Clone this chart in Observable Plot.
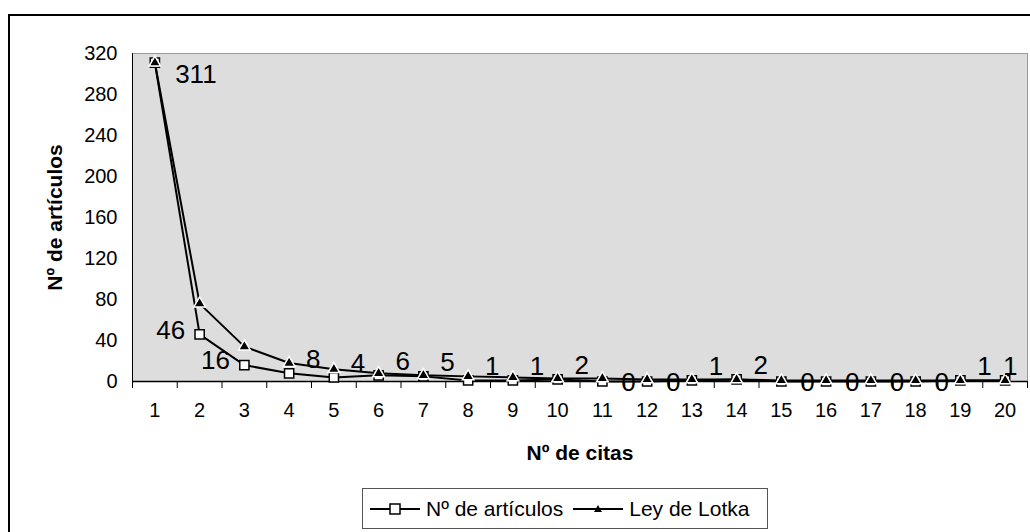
<!DOCTYPE html>
<html>
<head>
<meta charset="utf-8">
<script src="https://cdn.jsdelivr.net/npm/d3@7"></script>
<script src="https://cdn.jsdelivr.net/npm/@observablehq/plot@0.6"></script>
<style>
  html, body { margin: 0; padding: 0; background: #fff; }
  body { width: 1030px; height: 532px; overflow: hidden; position: relative; font-family: "Liberation Sans", Arial, sans-serif; }
  #frame { position: absolute; left: 8px; top: 14px; width: 1040px; height: 540px; border: 2px solid #000; box-sizing: border-box; pointer-events: none; }
  #chart svg { display: block; }
  #legend { position: absolute; left: 362px; top: 488px; width: 406px; height: 41px; box-sizing: border-box; border: 1px solid #555; background: #fff;
            display: flex; align-items: center; padding-left: 7px; font-size: 21px; color: #000; white-space: nowrap; }
  #legend .item { display: flex; align-items: center; margin-right: 10px; }
  #legend svg { margin-right: 6px; }
</style>
</head>
<body>
<div id="chart"></div>
<div id="legend"></div>
<div id="frame"></div>
<script>
const categories = [1, 2, 3, 4, 5, 6, 7, 8, 9, 10, 11, 12, 13, 14, 15, 16, 17, 18, 19, 20];
const articulos = [311, 46, 16, 8, 4, 6, 5, 1, 1, 2, 0, 0, 1, 2, 0, 0, 0, 0, 1, 1];
const lotka = [311, 76, 34, 18, 12, 8, 6, 5, 4, 3, 3, 2, 2, 2, 1, 1, 1, 1, 1, 1];
const yTicks = [0, 40, 80, 120, 160, 200, 240, 280, 320];
const seriesNames = ["Nº de artículos", "Ley de Lotka"];
const xTitle = "Nº de citas";
const yTitle = "Nº de artículos";

const rows = categories.map((c, i) => ({citas: c, articulos: articulos[i], lotka: lotka[i]}));
const xDomain = [categories[0] - 0.5, categories[categories.length - 1] + 0.5];
const boundaries = categories.map(c => c - 0.5).concat([xDomain[1]]);

const font = "'Liberation Sans', Arial, sans-serif";
const labelFont = 26;
const tickFont = 20;
const titleFont = 21;

const n = rows.length;
const middle = rows.slice(3, n - 1);
const label = d => String(d.articulos);

const plot = Plot.plot({
  width: 1030,
  height: 484,
  marginTop: 53,
  marginBottom: 103,
  marginLeft: 132,
  marginRight: 3,
  style: {fontFamily: font, fontSize: tickFont + "px", background: "transparent", color: "#000"},
  x: {domain: xDomain},
  y: {domain: [0, 320]},
  marks: [
    Plot.frame({fill: "#dddddd", stroke: "#9a9a9a"}),
    Plot.axisY({ticks: yTicks, tickSize: 0, tickPadding: 15, label: null, fontSize: tickFont}),
    Plot.axisX({ticks: boundaries, tickSize: 7, tickFormat: () => "", label: null}),
    Plot.axisX({ticks: categories, tickSize: 0, tickPadding: 21, label: null, fontSize: tickFont}),
    Plot.ruleY([0], {stroke: "#000", strokeWidth: 1.5}),
    Plot.ruleX([xDomain[0]], {stroke: "#000", strokeWidth: 1}),
    Plot.line(rows, {x: "citas", y: "articulos", stroke: "#000", strokeWidth: 2}),
    Plot.line(rows, {x: "citas", y: "lotka", stroke: "#000", strokeWidth: 2}),
    Plot.dot(rows, {x: "citas", y: "articulos", symbol: "square", r: 5.2, fill: "#fff", stroke: "#000", strokeWidth: 1.5}),
    Plot.dot(rows, {x: "citas", y: "lotka", symbol: "triangle", r: 4.3, fill: "#000", stroke: "#fff", strokeWidth: 1.5}),
    Plot.text(rows.slice(0, 1), {x: "citas", y: "articulos", text: label, dx: 41, dy: 12, fontSize: labelFont, fill: "#000"}),
    Plot.text(rows.slice(1, 3), {x: "citas", y: "articulos", text: label, dx: -29, dy: -4, fontSize: labelFont, fill: "#000"}),
    Plot.text(middle.filter(d => d.articulos !== 0), {x: "citas", y: "articulos", text: label, dx: 24, dy: -14, fontSize: labelFont, fill: "#000"}),
    Plot.text(middle.filter(d => d.articulos === 0), {x: "citas", y: "articulos", text: label, dx: 26, dy: 1, fontSize: labelFont, fill: "#000"}),
    Plot.text(rows.slice(n - 1), {x: "citas", y: "articulos", text: label, dx: 5, dy: -14, fontSize: labelFont, fill: "#000"}),
    Plot.text([xTitle], {frameAnchor: "bottom", text: d => d, dy: 72, textAnchor: "middle", lineAnchor: "middle", fontSize: titleFont, fontWeight: "bold", fill: "#000"}),
    Plot.text([yTitle], {frameAnchor: "left", text: d => d, dx: -77, rotate: -90, textAnchor: "middle", lineAnchor: "middle", fontSize: titleFont, fontWeight: "bold", fill: "#000"})
  ]
});
document.getElementById("chart").appendChild(plot);

// Legend
const legend = document.getElementById("legend");
const swatches = [
  `<svg width="50" height="14"><line x1="0" y1="7" x2="50" y2="7" stroke="#000" stroke-width="2"/><rect x="20" y="2" width="10" height="10" fill="#fff" stroke="#000" stroke-width="1.5"/></svg>`,
  `<svg width="50" height="14"><line x1="0" y1="7" x2="50" y2="7" stroke="#000" stroke-width="2"/><path d="M25,3 L29,10 L21,10 Z" fill="#000"/></svg>`
];
seriesNames.forEach((name, i) => {
  const item = document.createElement("div");
  item.className = "item";
  item.innerHTML = swatches[i] + `<span>${name}</span>`;
  legend.appendChild(item);
});
</script>
</body>
</html>
